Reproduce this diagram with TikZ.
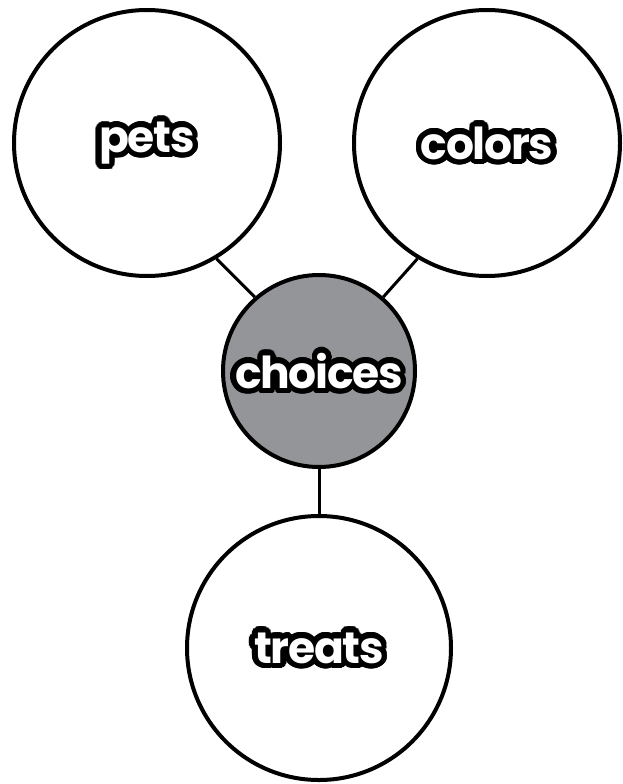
\documentclass[tikz,border=0pt]{standalone}
\usepackage{fontspec}
\setmainfont{Poppins}[BoldFont={* Bold}]
\newfontfamily\bubfont{Poppins Bold}[LetterSpace=-3]
\definecolor{hubgray}{HTML}{939598}
\tikzset{
  ring/.style={circle,draw=black,line width=4pt,fill=white,inner sep=0pt},
  hub/.style={ring,fill=hubgray},
  link/.style={line width=3pt,draw=black},
  txt/.style={font=\bubfont\fontsize{44}{46}\selectfont,inner sep=0pt}
}
\newcommand\bubtext[3]{%
  \foreach \a in {0,12,...,348}{
    \node[txt,text=black] (#3o\a) at ([shift={(\a:5.5pt)}]#1) {#2};
    \node[txt,text=black] (#3i\a) at ([shift={(\a:2.75pt)}]#1) {#2};
  }
  \node[txt,text=white] (#3t) at (#1) {#2};}
\begin{document}
\begin{tikzpicture}[x=1pt,y=-1pt]
\useasboundingbox (0,0) rectangle (623,784);
\node[ring,minimum size=266pt] (pets) at (147,143) {};
\node[ring,minimum size=266pt] (colors) at (487,143) {};
\node[hub,minimum size=192pt] (choices) at (319,371) {};
\node[ring,minimum size=264pt] (treats) at (319,648) {};
\draw[link] (pets.-59) -- (choices.131);
\draw[link] (colors.239) -- (choices.49);
\draw[link] (choices.south) -- (treats.north);
\bubtext{pets.center}{pets}{p}
\bubtext{colors.center}{colors}{c}
\bubtext{choices.center}{choices}{h}
\bubtext{treats.center}{treats}{t}
\end{tikzpicture}
\end{document}
